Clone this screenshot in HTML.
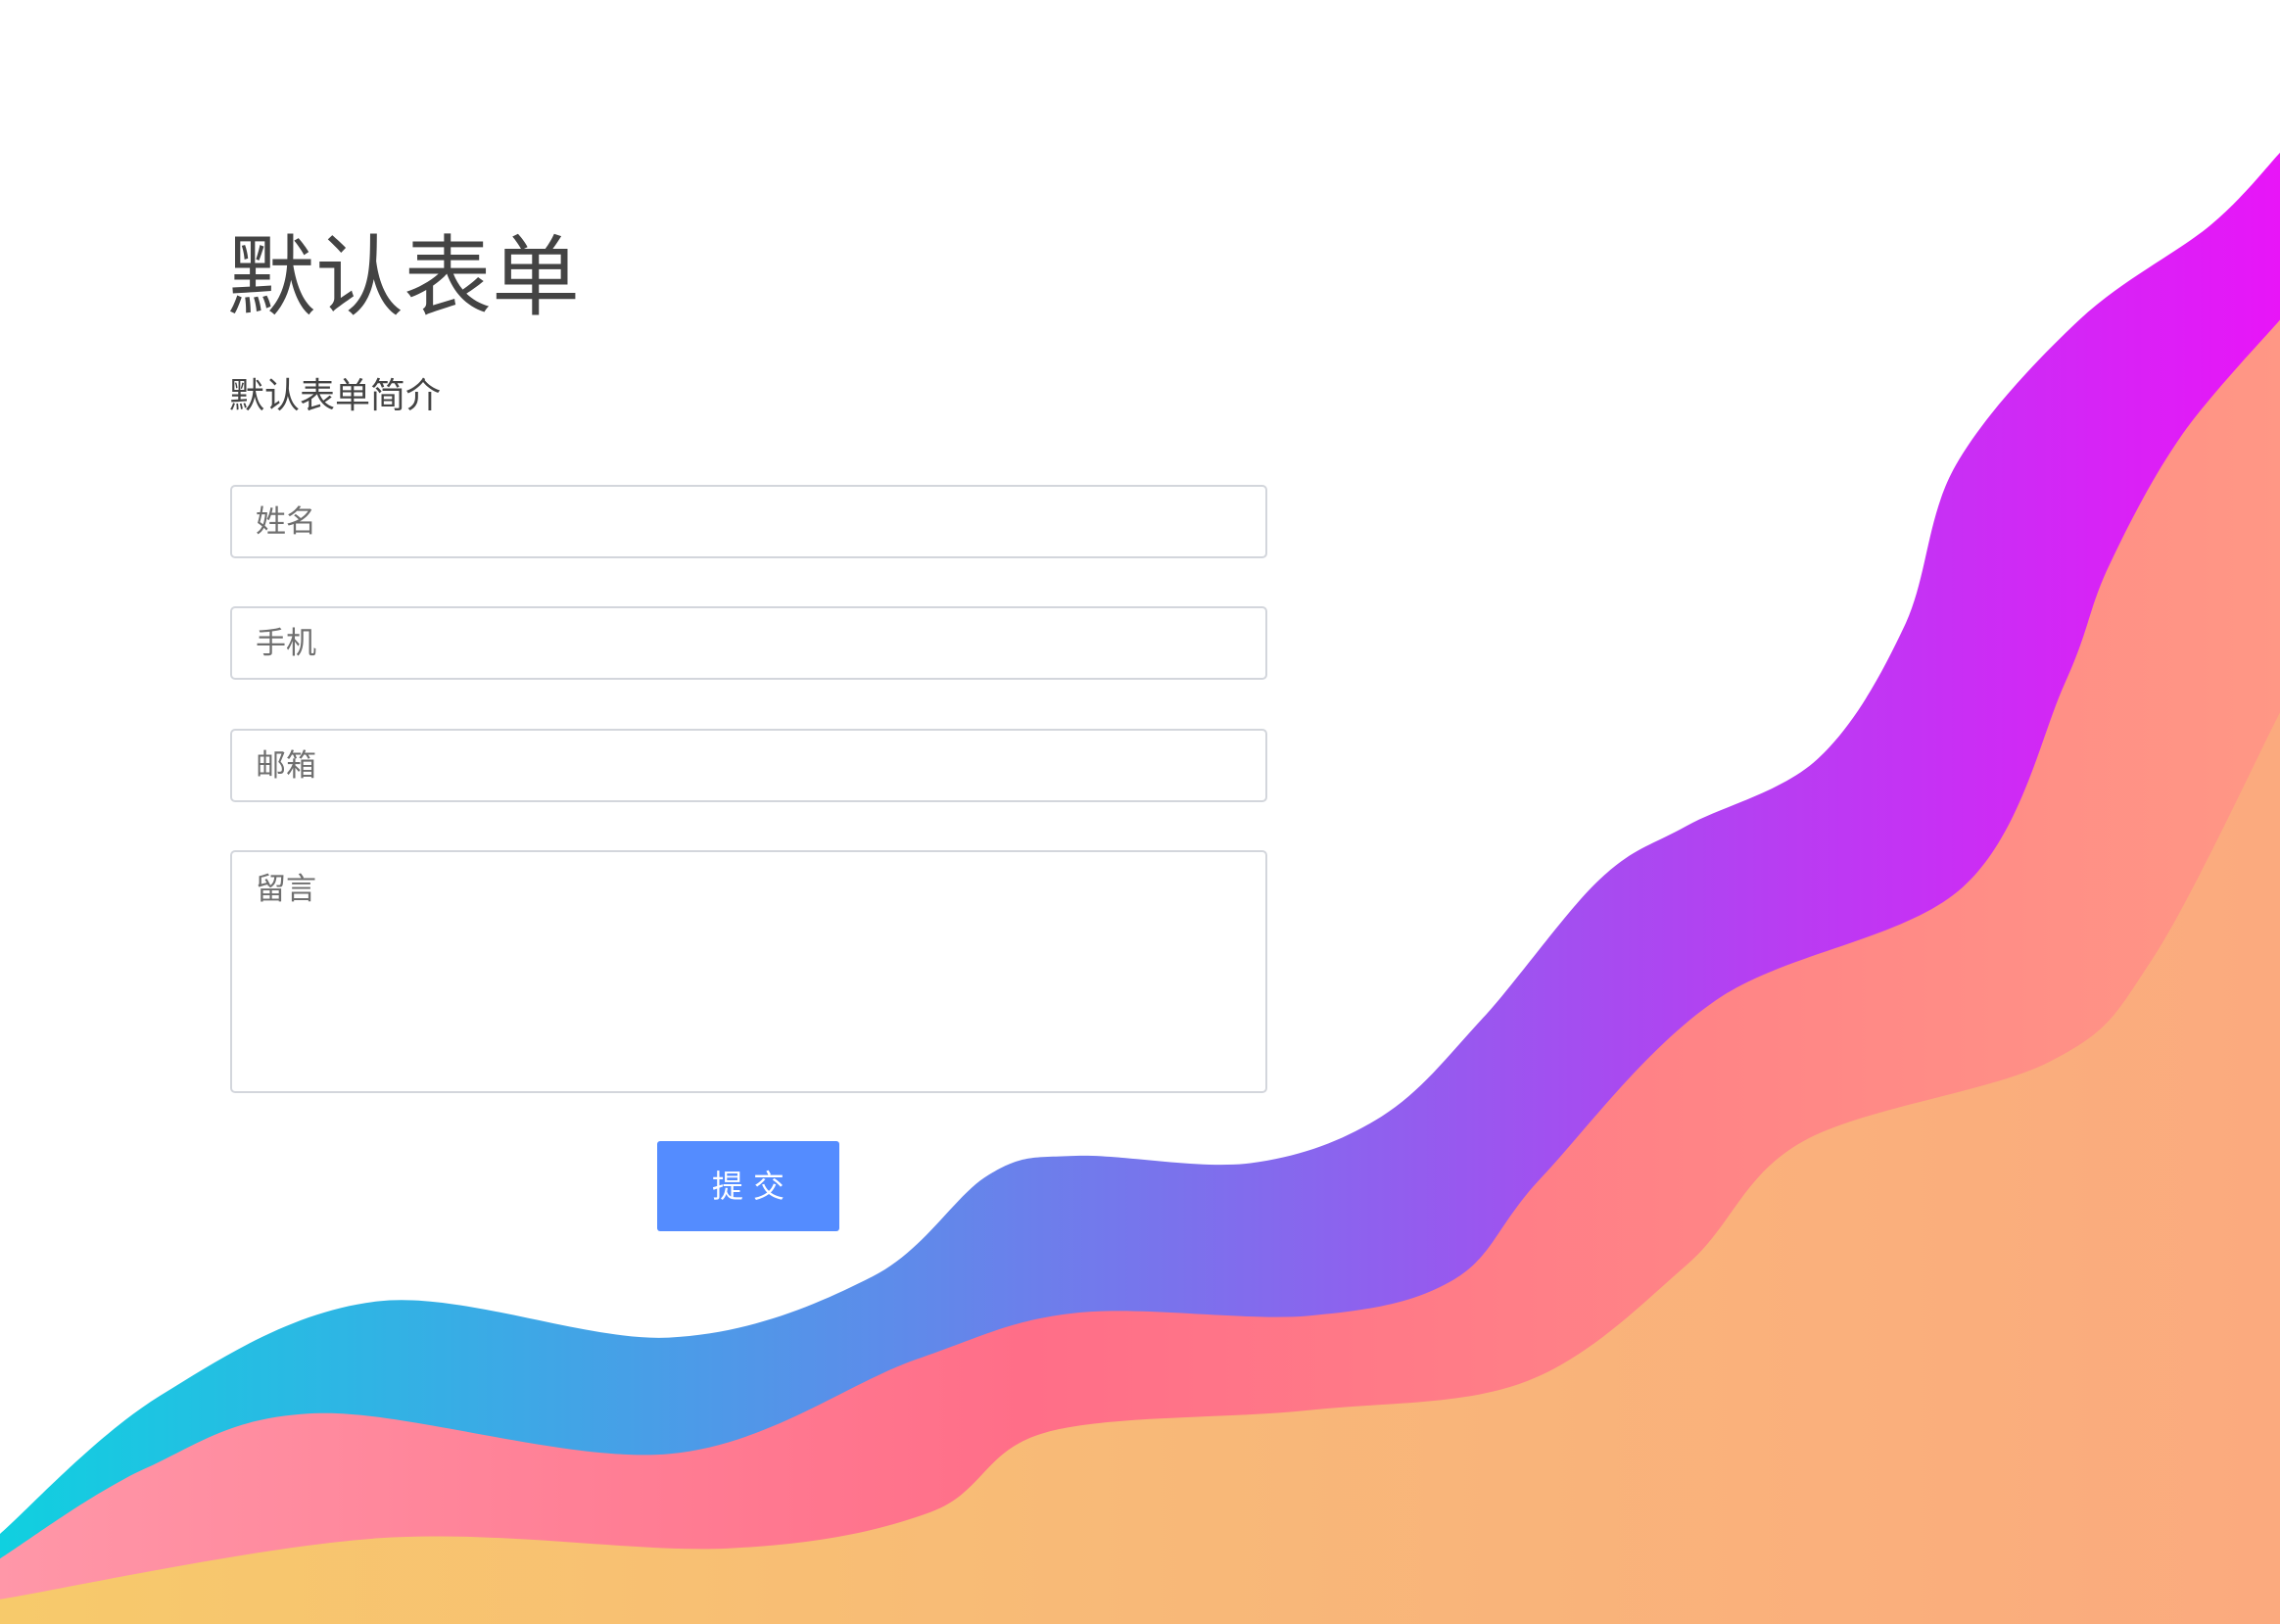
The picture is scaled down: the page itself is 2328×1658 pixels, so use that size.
<!DOCTYPE html>
<html><head><meta charset="utf-8">
<style>
html,body{margin:0;padding:0;width:2328px;height:1658px;overflow:hidden;background:#fff;font-family:"Liberation Sans","Noto Sans CJK SC",sans-serif;}
#waves{position:absolute;left:0;top:0;width:2328px;height:1658px;}
.title{position:absolute;left:232px;top:224px;font-size:90px;line-height:120px;color:#444;margin:0;font-weight:normal;}
.sub{position:absolute;left:234px;top:376px;font-size:36px;line-height:56px;color:#444;margin:0;}
.field{position:absolute;left:235px;width:1055px;height:71px;border:2px solid #d3d6dc;border-radius:5px;box-sizing:content-box;background:#fff;}
.ph{position:absolute;left:24px;top:0;font-size:31px;line-height:71px;color:#6f6f6f;}
.btn{position:absolute;left:671px;top:1165px;width:186px;height:92px;background:#548cff;border-radius:3px;color:#fff;font-size:32px;line-height:92px;text-align:center;letter-spacing:10px;text-indent:10px;}
</style></head><body>
<svg id="waves" viewBox="0 0 1568 1117" preserveAspectRatio="none">
<defs>
<linearGradient id="g1" x1="0" x2="1"><stop offset="0" stop-color="#10d0e0"/><stop offset="0.4" stop-color="#5f8aea"/><stop offset="0.7" stop-color="#a64cf0"/><stop offset="1" stop-color="#e815f8"/></linearGradient>
<linearGradient id="g2" x1="0" x2="1"><stop offset="0" stop-color="#ff97a8"/><stop offset="0.45" stop-color="#ff6e88"/><stop offset="1" stop-color="#ff9785"/></linearGradient>
<linearGradient id="g3" x1="0" x2="1"><stop offset="0" stop-color="#f7ca6b"/><stop offset="0.5" stop-color="#f8b978"/><stop offset="1" stop-color="#fbaa7e"/></linearGradient>
</defs>
<path id="w1" fill="url(#g1)"/>
<path id="w2" fill="url(#g2)"/>
<path id="w3" fill="url(#g3)"/>
</svg>
<h1 class="title">默认表单</h1>
<p class="sub">默认表单简介</p>
<div class="field" style="top:495px"><span class="ph">姓名</span></div>
<div class="field" style="top:619px"><span class="ph">手机</span></div>
<div class="field" style="top:744px"><span class="ph">邮箱</span></div>
<div class="field" style="top:868px;height:244px"><span class="ph" style="top:18px;line-height:40px">留言</span></div>
<div class="btn">提交</div>
<script>
const wave1=[[0,1055],[110,960],[260,895],[460,920],[600,878],[680,808],[740,795],[860,800],[950,768],[1020,700],[1100,605],[1160,568],[1250,522],[1310,430],[1345,320],[1430,220],[1520,155],[1568,105]];
const wave2=[[0,1072],[100,1010],[220,972],[460,1000],[630,935],[740,903],[900,905],[1000,880],[1060,810],[1180,688],[1350,610],[1420,470],[1450,390],[1500,300],[1568,220]];
const wave3=[[0,1100],[260,1058],[500,1065],[640,1040],[720,985],[900,970],[1050,950],[1160,870],[1240,785],[1410,730],[1480,660],[1568,490]];
function smooth(p){let d='M'+p[0][0]+','+p[0][1];for(let i=0;i<p.length-1;i++){const a=p[i-1]||p[i],b=p[i],c=p[i+1],e=p[i+2]||c;d+=' C'+(b[0]+(c[0]-a[0])/6)+','+(b[1]+(c[1]-a[1])/6)+' '+(c[0]-(e[0]-b[0])/6)+','+(c[1]-(e[1]-b[1])/6)+' '+c[0]+','+c[1];}return d+' L1568,1117 L0,1117 Z';}
document.getElementById('w1').setAttribute('d',smooth(wave1));
document.getElementById('w2').setAttribute('d',smooth(wave2));
document.getElementById('w3').setAttribute('d',smooth(wave3));
</script>
</body></html>
